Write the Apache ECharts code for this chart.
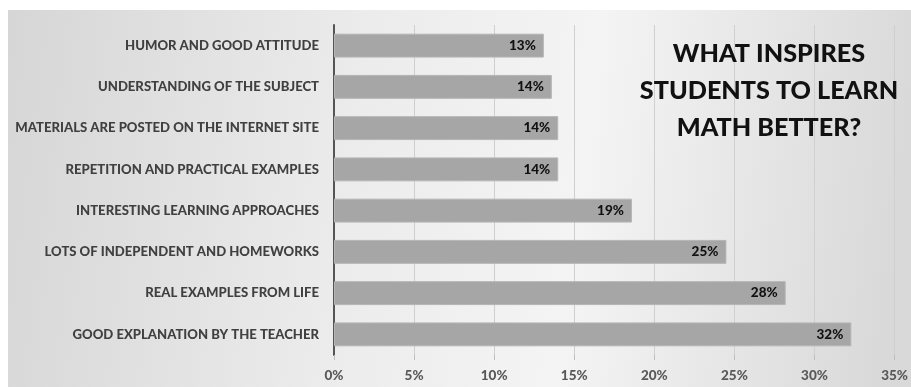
<!DOCTYPE html>
<html><head><meta charset="utf-8">
<script src="https://cdn.jsdelivr.net/npm/echarts@6/dist/echarts.min.js"></script>
<style>html,body{margin:0;padding:0;background:#fff}#c{width:911px;height:387px}</style>
</head><body><div id="c"></div>
<script>
var categories = [
  "HUMOR AND GOOD ATTITUDE",
  "UNDERSTANDING OF THE SUBJECT",
  "MATERIALS ARE POSTED ON THE INTERNET SITE",
  "REPETITION AND PRACTICAL EXAMPLES",
  "INTERESTING LEARNING APPROACHES",
  "LOTS OF INDEPENDENT AND HOMEWORKS",
  "REAL EXAMPLES FROM LIFE",
  "GOOD EXPLANATION BY THE TEACHER"
];
var values = [13.1, 13.6, 14.0, 14.0, 18.6, 24.5, 28.2, 32.3];
var labels = ["13%", "14%", "14%", "14%", "19%", "25%", "28%", "32%"];
var titleLines = ["WHAT INSPIRES", "STUDENTS TO LEARN", "MATH BETTER?"];

var chart = echarts.init(document.getElementById('c'), null, {renderer: 'canvas'});
var F = 'Lato, "Open Sans", sans-serif';
chart.setOption({
  animation: false,
  graphic: [{
    type: 'rect', z: -10, silent: true,
    shape: {x: 8, y: 10, width: 903, height: 377},
    style: {fill: new echarts.graphic.LinearGradient(0, 0, 1, 0.3, [
      {offset: 0, color: '#d6d6d6'},
      {offset: 0.4, color: '#ececec'},
      {offset: 0.65, color: '#f4f4f4'},
      {offset: 1, color: '#d9d9d9'}
    ])}
  }],
  title: {
    text: titleLines.join('\n'),
    left: 764, top: 30, textAlign: 'center',
    textStyle: {fontFamily: F, fontWeight: 900, fontSize: 25.2, color: '#111', lineHeight: 37}
  },
  grid: {left: 334, right: 15, top: 25, bottom: 32, containLabel: false},
  xAxis: {
    type: 'value', min: 0, max: 35, interval: 5,
    axisLine: {show: false},
    axisTick: {show: true, length: 5, lineStyle: {color: '#bdbdbd'}},
    splitLine: {show: true, lineStyle: {color: '#cfcfcf', width: 1}},
    axisLabel: {formatter: '{value}%', color: '#595959', fontFamily: F, fontWeight: 900, fontSize: 13.5, margin: 14}
  },
  yAxis: {
    type: 'category', data: categories, inverse: true,
    axisLine: {show: true, lineStyle: {color: '#555', width: 2}},
    axisTick: {show: false},
    axisLabel: {color: '#404040', fontFamily: F, fontWeight: 900, fontSize: 13.1, margin: 15}
  },
  series: [{
    type: 'bar', data: values, barWidth: '58%',
    itemStyle: {color: '#a6a6a6', borderColor: '#b5b5b5', borderWidth: 1},
    label: {show: true, position: 'insideRight', distance: 8,
      formatter: function (p) { return labels[p.dataIndex]; },
      color: '#111', fontFamily: F, fontWeight: 900, fontSize: 13.5}
  }]
});
</script></body></html>
